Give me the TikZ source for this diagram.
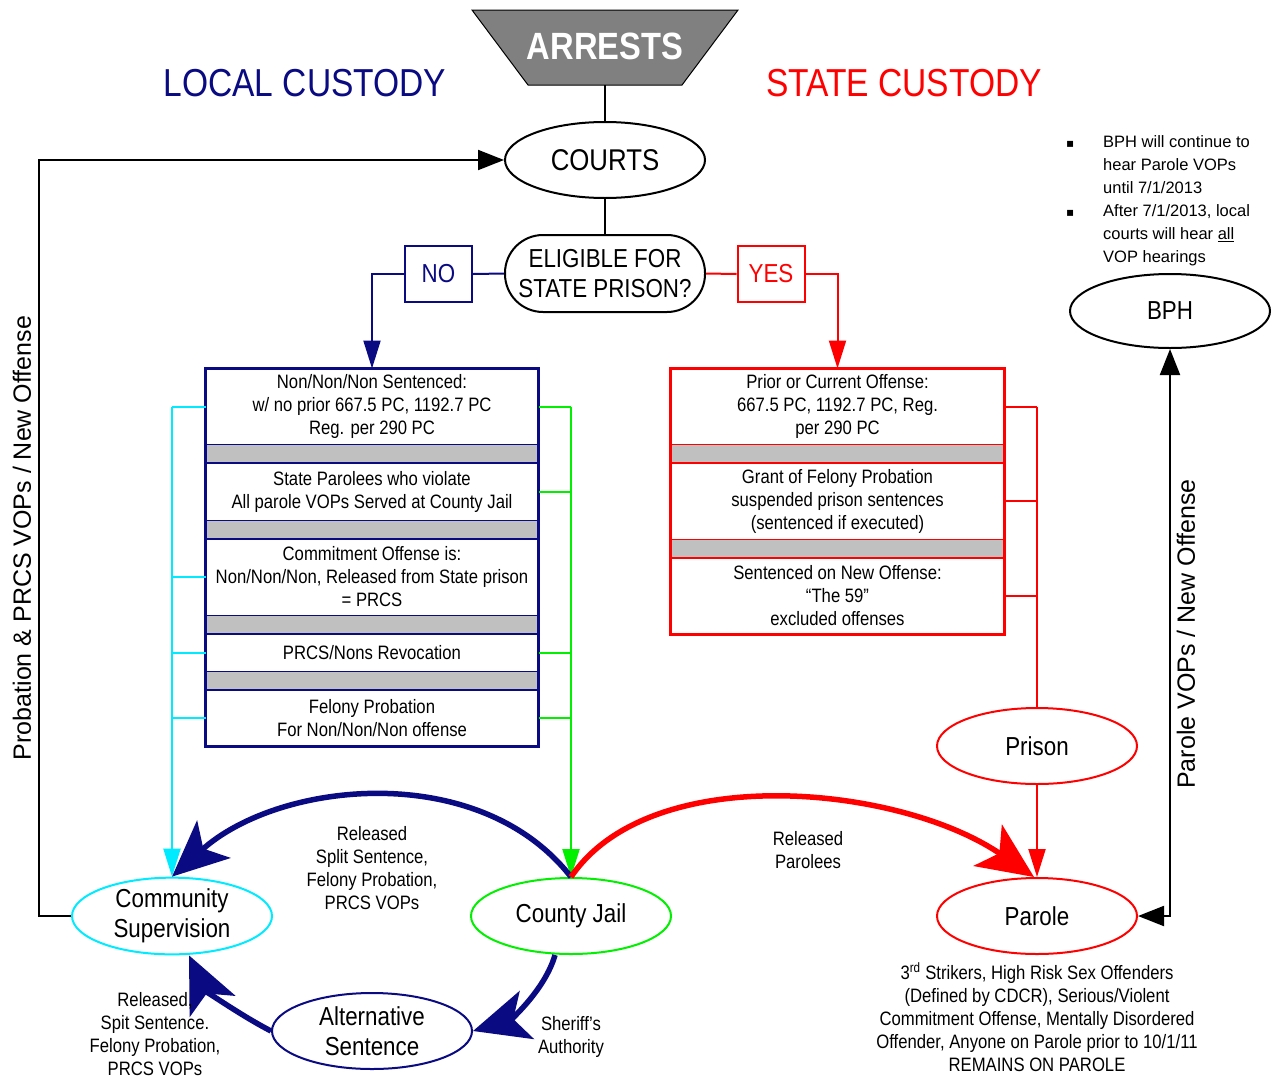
\documentclass[tikz,border=0pt]{standalone}
\usepackage{fontspec}
\usepackage{array}
\setmainfont{Liberation Sans}
\newfontfamily\narrowfont{Liberation Sans}[FakeStretch=0.86]
\newfontfamily\symfont{DejaVu Sans}
\usetikzlibrary{shapes.geometric,arrows.meta}
\definecolor{navyc}{RGB}{10,10,130}
\definecolor{cyanc}{RGB}{0,235,255}
\definecolor{greenc}{RGB}{0,240,0}
\definecolor{bandgray}{RGB}{192,192,192}
\definecolor{arrestgray}{RGB}{128,128,128}

\begin{document}
\begin{tikzpicture}[x=1pt,y=-1pt]
  \tikzset{
    every node/.style={font=\narrowfont\fontsize{19.4}{23}\selectfont, align=center},
    oval/.style={ellipse, draw, line width=2pt, minimum width=200pt, minimum height=76pt, inner sep=0pt, font=\narrowfont\fontsize{26}{30}\selectfont},
    lsect/.style={draw=navyc, line width=1pt, fill=white, minimum width=332pt, inner sep=0pt},
    rsect/.style={draw=red, line width=1pt, fill=white, minimum width=333pt, inner sep=0pt},
    conn/.style={line width=2pt},
    arrowhd/.style={-{Triangle[length=28pt,width=17pt]}},
    blackhd/.tip={Triangle[length=26pt,width=20pt]},
    bigarc/.style={line width=5.5pt, -{Stealth[length=56pt,width=50pt,inset=14pt]}},
    answer/.style={draw, conn, minimum width=67pt, minimum height=56pt, inner sep=0pt, font=\narrowfont\fontsize{26}{30}\selectfont},
  }
  \useasboundingbox (0,0) rectangle (1273,1079);
  \fill[white] (0,0) rectangle (1273,1079);

  \filldraw[fill=arrestgray, draw=black, line width=1pt] (472,10) -- (738,10) -- (682,85) -- (528,85) -- cycle;
  \node[text=white, font=\narrowfont\bfseries\fontsize{38}{40}\selectfont] (arrests) at (605,46) {ARRESTS};
  \coordinate (arrestsfoot) at (605,85);
  \node[text=navyc, font=\narrowfont\fontsize{39}{40}\selectfont] (local) at (305,83) {LOCAL CUSTODY};
  \node[text=red, font=\narrowfont\fontsize{39}{40}\selectfont] (state) at (904,83) {STATE CUSTODY};

  \node[oval, font=\narrowfont\fontsize{30}{32}\selectfont] (courts) at (605,160) {COURTS};
  \node[draw, conn, rounded corners=38pt, minimum width=200pt, minimum height=77pt, inner sep=0pt,
        font=\narrowfont\fontsize{26}{30}\selectfont] (elig) at (605,273.5) {ELIGIBLE FOR\\STATE PRISON?};
  \node[answer, draw=navyc, text=navyc] (no) at (438.5,274) {NO};
  \node[answer, draw=red, text=red] (yes) at (771,274) {YES};

  \node[lsect, minimum height=75pt] (l1) at (372,406.5) {Non/Non/Non Sentenced:\\w/ no prior 667.5 PC, 1192.7 PC\\Reg. per 290 PC};
  \node[lsect, minimum height=57pt] (l2) at (372,491.5) {State Parolees who violate\\All parole VOPs Served at County Jail};
  \node[lsect, minimum height=76pt] (l3) at (372,577) {Commitment Offense is:\\Non/Non/Non, Released from State prison\\= PRCS};
  \node[lsect, minimum height=37pt] (l4) at (372,652.5) {PRCS/Nons Revocation};
  \node[lsect, minimum height=56pt] (l5) at (372,718) {Felony Probation\\For Non/Non/Non offense};
  \foreach \a/\b in {l1/l2,l2/l3,l3/l4,l4/l5}
    \filldraw[fill=bandgray, draw=navyc, line width=1pt] (\a.south west) rectangle (\b.north east);
  \draw[navyc, line width=2.2pt] (l1.north west) rectangle (l5.south east);

  \node[rsect, minimum height=75pt] (r1) at (837.5,406.5) {Prior or Current Offense:\\667.5 PC, 1192.7 PC, Reg.\\per 290 PC};
  \node[rsect, minimum height=76pt] (r2) at (837.5,501) {Grant of Felony Probation\\suspended prison sentences\\(sentenced if executed)};
  \node[rsect, minimum height=76pt] (r3) at (837.5,596) {Sentenced on New Offense:\\“The 59”\\excluded offenses};
  \foreach \a/\b in {r1/r2,r2/r3}
    \filldraw[fill=bandgray, draw=red, line width=1pt] (\a.south west) rectangle (\b.north east);
  \draw[red, line width=2.2pt] (r1.north west) rectangle (r3.south east);

  \node[oval, draw=cyanc] (cs) at (172,916) {Community\\Supervision};
  \node[oval, draw=greenc] (cj) at (571,916) {County Jail};
  \node[oval, draw=navyc] (as) at (372,1031) {Alternative\\Sentence};
  \node[oval, draw=red] (prison) at (1037,746) {Prison};
  \node[oval, draw=red] (parole) at (1037,916) {Parole};
  \node[oval, minimum height=74pt] (bph) at (1170,311) {BPH};

  \draw[conn] (arrestsfoot) -- (courts);
  \draw[conn] (courts) -- (elig);
  \draw[conn, navyc] (elig.west) -- (no.east);
  \draw[conn, navyc, arrowhd] (no.west) -| (l1.north);
  \draw[conn, red] (elig.east) -- (yes.west);
  \draw[conn, red, arrowhd] (yes.east) -| (r1.north);

  \foreach \s in {l1,l3,l4,l5}
    \draw[conn, cyanc] (\s.west) -- (\s.west -| cs.north);
  \draw[conn, cyanc, arrowhd] (l1.west -| cs.north) -- (cs.north);
  \foreach \s in {l1,l2,l4,l5}
    \draw[conn, greenc] (\s.east) -- (\s.east -| cj.north);
  \draw[conn, greenc, arrowhd] (l1.east -| cj.north) -- (cj.north);
  \foreach \s in {r1,r2,r3}
    \draw[conn, red] (\s.east) -- (\s.east -| prison.north);
  \draw[conn, red] (r1.east -| prison.north) -- (prison.north);
  \draw[conn, red, arrowhd] (prison) -- (parole);

  \draw[navyc, bigarc] (cj.north) .. controls (480,760) and (280,780) .. (cs.north);
  \draw[red, bigarc] (cj.north) .. controls (650,760) and (900,785) .. ([xshift=-3pt]parole.north);
  \draw[navyc, bigarc] ([xshift=-16pt]cj.south) .. controls (545,990) and (510,1020) .. (as.east);
  \draw[navyc, bigarc] (as.west) .. controls (240,1015) and (205,990) .. ([xshift=17pt]cs.south);

  \draw[conn, -blackhd] (cs.west) -- ++(-32,0) |- (courts.west);
  \draw[conn, blackhd-blackhd] (bph.south) |- (parole.east);

  \node[rotate=90, font=\fontsize{25}{28}\selectfont] (probvop) at (22,538) {Probation \& PRCS VOPs / New Offense};
  \node[rotate=90, font=\fontsize{25}{28}\selectfont] (parvop) at (1186,634) {Parole VOPs / New Offense};
  \node (relsplit) at (372,868) {Released\\Split Sentence,\\Felony Probation,\\PRCS VOPs};
  \node (relparole) at (808,850) {Released\\Parolees};
  \node (sheriff) at (571,1037) {Sheriff’s\\Authority};
  \node (relspit) at (155,1034) {Released,\\Spit Sentence.\\Felony Probation,\\PRCS VOPs};
  \node (parolenote) at (1037,1017) {3\textsuperscript{rd} Strikers, High Risk Sex Offenders\\(Defined by CDCR), Serious/Violent\\Commitment Offense, Mentally Disordered\\Offender, Anyone on Parole prior to 10/1/11\\REMAINS ON PAROLE};
  \node[anchor=north west, inner sep=0pt, align=left, font=\fontsize{16.5}{23}\selectfont] (bphnote) at (1066,131)
    {\begin{tabular}{@{}p{37pt}@{}>{\raggedright\arraybackslash}p{160pt}@{}}
       {\symfont\fontsize{12}{23}\selectfont ▪} & BPH will continue to\newline hear Parole VOPs\newline until 7/1/2013\\
       {\symfont\fontsize{12}{23}\selectfont ▪} & After 7/1/2013, local\newline courts will hear \underline{all}\newline VOP hearings
     \end{tabular}};
\end{tikzpicture}
\end{document}
